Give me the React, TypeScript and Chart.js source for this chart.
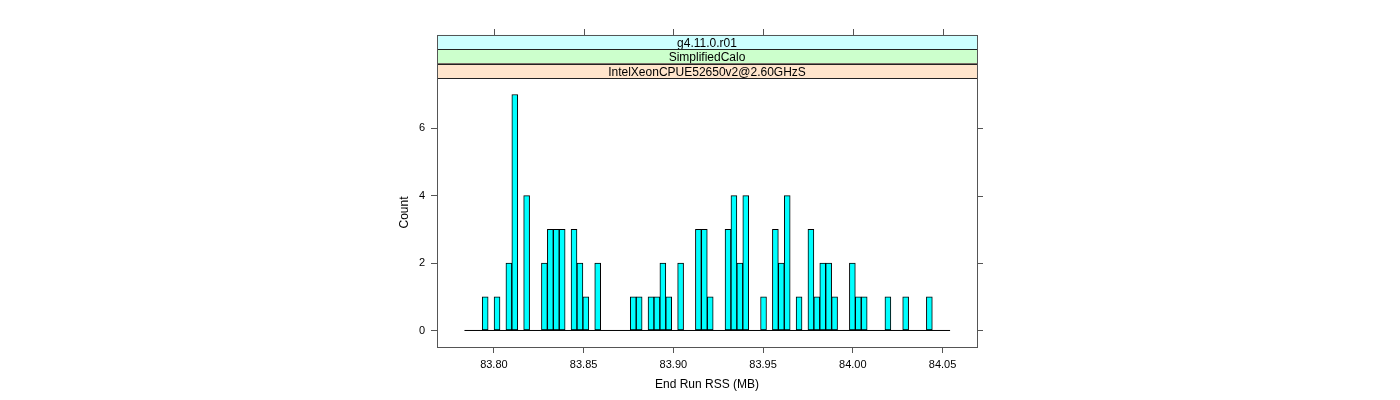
import React, { useEffect, useRef } from "react";
import { Chart, registerables } from "chart.js";

Chart.register(...registerables);

// Strip labels, top to bottom
const stripLabels = ["g4.11.0.r01", "SimplifiedCalo", "IntelXeonCPUE52650v2@2.60GHzS"];
const stripColors = ["#ccffff", "#ccffcc", "#ffe5cc"];

// Histogram bins
const binStart = 83.7836;
const binWidth = 0.0033;
const binCounts = [
  0, 0, 0, 1, 0, 1, 0, 2, 7, 0,
  4, 0, 0, 2, 3, 3, 3, 0, 3, 2,
  1, 0, 2, 0, 0, 0, 0, 0, 1, 1,
  0, 1, 1, 2, 1, 0, 2, 0, 0, 3,
  3, 1, 0, 0, 3, 4, 2, 4, 0, 0,
  1, 0, 3, 2, 4, 0, 1, 0, 3, 1,
  2, 2, 1, 0, 0, 2, 1, 1, 0, 0,
  0, 1, 0, 0, 1, 0, 0, 0, 1, 0,
  0, 0,
];

const xTicks = [83.8, 83.85, 83.9, 83.95, 84.0, 84.05];
const yTicks = [0, 2, 4, 6];
const xLabel = "End Run RSS (MB)";
const yLabel = "Count";
const xMin = 83.7683;
const xMax = 84.0692;
const yMin = -0.49;
const yMax = 7.49;

const FONT = "'Liberation Sans', Arial, Helvetica, sans-serif";

const latticePlugin = {
  id: "latticeDecor",
  afterDraw(chart: any) {
    const { ctx, chartArea } = chart;
    const { left, right, top, bottom } = chartArea;
    const xs = chart.scales.x;
    const ys = chart.scales.y;
    ctx.save();
    // strips
    const stripH = 14.4;
    const n = stripLabels.length;
    for (let i = 0; i < n; i++) {
      const y0 = top - (n - i) * stripH;
      ctx.fillStyle = stripColors[i];
      ctx.fillRect(left, y0, right - left, stripH);
      ctx.strokeStyle = "#222";
      ctx.lineWidth = 1;
      ctx.strokeRect(Math.round(left) + 0.5, Math.round(y0) + 0.5, Math.round(right - left), Math.round(stripH));
      ctx.fillStyle = "#000";
      ctx.font = `12px ${FONT}`;
      ctx.textAlign = "center";
      ctx.textBaseline = "middle";
      ctx.fillText(stripLabels[i], (left + right) / 2, y0 + stripH / 2 + 1.5);
    }
    const stripTop = top - n * stripH;
    ctx.strokeStyle = "#555";
    ctx.lineWidth = 1;
    // outer box of panel + strips
    ctx.strokeRect(Math.round(left) + 0.5, Math.round(stripTop) + 0.5, Math.round(right - left), Math.round(bottom - stripTop));
    // top ticks
    ctx.beginPath();
    for (const v of xTicks) {
      const px = Math.round(xs.getPixelForValue(v)) + 0.5;
      ctx.moveTo(px, Math.round(stripTop));
      ctx.lineTo(px, Math.round(stripTop) - 6);
    }
    // right ticks
    for (const v of yTicks) {
      const py = Math.round(ys.getPixelForValue(v)) + 0.5;
      ctx.moveTo(Math.round(right), py);
      ctx.lineTo(Math.round(right) + 6, py);
    }
    ctx.stroke();
    ctx.restore();
  },
};

export default function App() {
  const ref = useRef<HTMLCanvasElement | null>(null);
  useEffect(() => {
    if (!ref.current) return;
    const barData = binCounts
      .map((c, i) => ({ x: binStart + (i + 0.5) * binWidth, y: c }))
      .filter((d) => d.y > 0);
    const baseLine = [
      { x: binStart, y: 0 },
      { x: binStart + binCounts.length * binWidth, y: 0 },
    ];
    const chart = new Chart(ref.current, {
      type: "bar",
      data: {
        datasets: [
          {
            type: "line",
            data: baseLine,
            borderColor: "#000",
            borderWidth: 1,
            pointRadius: 0,
            order: 2,
          } as any,
          {
            type: "bar",
            data: barData,
            backgroundColor: "#00ffff",
            borderColor: "#000",
            borderWidth: 1,
            borderSkipped: false,
            barPercentage: 1,
            categoryPercentage: 1,
            order: 1,
          } as any,
        ],
      },
      options: {
        responsive: false,
        animation: false,
        devicePixelRatio: 1,
        layout: { padding: { left: 397, right: 423, top: 78, bottom: 0 } },
        plugins: { legend: { display: false }, tooltip: { enabled: false } },
        scales: {
          x: {
            type: "linear",
            position: "bottom",
            offset: false,
            min: xMin,
            max: xMax,
            afterBuildTicks: (s: any) => {
              s.ticks = xTicks.map((v) => ({ value: v }));
            },
            afterFit: (s: any) => {
              s.height = 53;
            },
            grid: { display: true, offset: false, drawOnChartArea: false, drawTicks: true, tickLength: 6, color: "#555" },
            border: { display: false },
            ticks: {
              color: "#000",
              padding: 5,
              maxRotation: 0,
              autoSkip: false,
              font: { family: FONT, size: 11 },
              callback: (v: any) => Number(v).toFixed(2),
            },
            title: {
              display: true,
              text: xLabel,
              color: "#000",
              font: { family: FONT, size: 12 },
              padding: { top: 0, bottom: 8 },
            },
          },
          y: {
            type: "linear",
            position: "left",
            min: yMin,
            max: yMax,
            afterBuildTicks: (s: any) => {
              s.ticks = yTicks.map((v) => ({ value: v }));
            },
            afterFit: (s: any) => {
              s.width = 40;
            },
            grid: { display: true, drawOnChartArea: false, drawTicks: true, tickLength: 6, color: "#555" },
            border: { display: false },
            ticks: {
              color: "#000",
              padding: 6,
              autoSkip: false,
              font: { family: FONT, size: 11 },
              callback: (v: any) => String(v),
            },
            title: {
              display: true,
              text: yLabel,
              color: "#000",
              font: { family: FONT, size: 12 },
              padding: { top: 0, bottom: 0 },
            },
          },
        },
      },
      plugins: [latticePlugin],
    });
    return () => chart.destroy();
  }, []);
  return (
    <div style={{ position: "absolute", left: 0, top: 0, width: 1400, height: 400, background: "#fff" }}>
      <canvas ref={ref} width={1400} height={400} style={{ display: "block" }} />
    </div>
  );
}
